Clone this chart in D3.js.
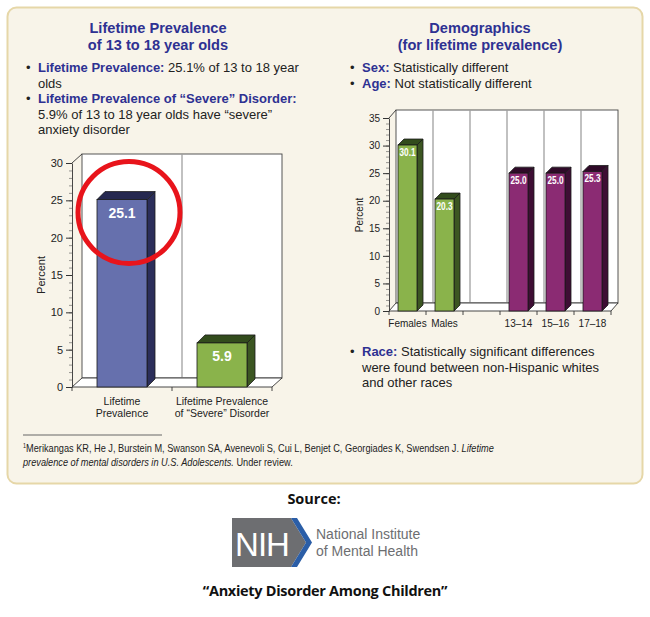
<!DOCTYPE html>
<html><head><meta charset="utf-8">
<script src="https://cdn.jsdelivr.net/npm/d3@7"></script>
<style>
body{margin:0;background:#fff;}
svg{display:block;font-family:"Liberation Sans",Arial,sans-serif;}
</style></head>
<body>
<script>
// ---- data ----
const leftCategories = ["Lifetime Prevalence", "Lifetime Prevalence of “Severe” Disorder"];
const leftLabelLines = [["Lifetime","Prevalence"],["Lifetime Prevalence","of “Severe” Disorder"]];
const leftValues = [25.1, 5.9];
const leftTicks = [0,5,10,15,20,25,30];

const rightCategories = ["Females","Males","","13–14","15–16","17–18"];
const rightValues = [30.1, 20.3, null, 25.0, 25.0, 25.3];
const rightGroup = ["sex","sex",null,"age","age","age"];
const rightTicks = [0,5,10,15,20,25,30,35];

const W = 650, H = 617;
const svg = d3.select("body").append("svg").attr("width",W).attr("height",H);
const navy = "#2e3192";

// panel
svg.append("rect").attr("x",7.5).attr("y",7.5).attr("width",635).attr("height",476)
  .attr("rx",9).attr("fill","#f8f4e9").attr("stroke","#e6d7a8").attr("stroke-width",2);

// ---- text blocks ----
function title(x, lines, y0){
  lines.forEach((t,i)=>svg.append("text").attr("x",x).attr("y",y0+i*17)
    .attr("text-anchor","middle").attr("font-size",14.6).attr("font-weight","bold")
    .attr("fill",navy).text(t));
}
title(158, ["Lifetime Prevalence","of 13 to 18 year olds"], 33);
title(480, ["Demographics","(for lifetime prevalence)"], 33);

function bullet(xb, xt, y, label, lines){
  svg.append("text").attr("x",xb).attr("y",y).attr("font-size",13).attr("fill","#222").text("•");
  lines.forEach((ln,i)=>{
    const t = svg.append("text").attr("x",xt).attr("y",y+i*15.5).attr("font-size",13).attr("fill","#222");
    if(i===0 && label){ t.append("tspan").attr("font-weight","bold").attr("fill",navy).text(label); }
    t.append("tspan").text(ln);
  });
}
bullet(26, 38, 72, "Lifetime Prevalence:", [" 25.1% of 13 to 18 year","olds"]);
bullet(26, 38, 103, "Lifetime Prevalence of “Severe” Disorder:", ["","5.9% of 13 to 18 year olds have “severe”","anxiety disorder"]);
bullet(350, 362, 72, "Sex:", [" Statistically different"]);
bullet(350, 362, 88, "Age:", [" Not statistically different"]);
bullet(350, 362, 356, "Race:", [" Statistically significant differences","were found between non-Hispanic whites","and other races"]);

// ---- 3D bar chart helper ----
function chart(opts){
  const {x0,x1,y0,y1,max,dx,dy,cats,vals,colors,ticks,barDepth,pInner,pOuter,labelSize,labelDy,labelLen,catLines,catY,percentX,percentY} = opts;
  const g = svg.append("g");
  const y = d3.scaleLinear().domain([0,max]).range([y0,y1]);
  const x = d3.scaleBand().domain(cats).range([x0,x1]).paddingInner(pInner).paddingOuter(pOuter);
  const step = x.step();
  const slotStart = c => x(c) - (step - x.bandwidth())/2;
  // back wall
  g.append("rect").attr("x",x0+dx).attr("y",y(max)-dy).attr("width",x1-x0).attr("height",y(0)-y(max))
    .attr("fill","#fff").attr("stroke","#444").attr("stroke-width",0.9);
  // dividers
  cats.slice(1).forEach(c=>{
    const xx = slotStart(c)+dx;
    g.append("line").attr("x1",xx).attr("x2",xx).attr("y1",y(max)-dy).attr("y2",y(0)-dy)
      .attr("stroke","#a0a0a0").attr("stroke-width",1.3);
  });
  // floor
  g.append("path").attr("d",`M${x0},${y(0)}L${x1},${y(0)}L${x1+dx},${y(0)-dy}L${x0+dx},${y(0)-dy}Z`)
    .attr("fill","#fff").attr("stroke","#333").attr("stroke-width",0.9);
  // axis diagonal top
  g.append("line").attr("x1",x0).attr("y1",y(max)).attr("x2",x0+dx).attr("y2",y(max)-dy)
    .attr("stroke","#333").attr("stroke-width",0.9);
  // bars
  cats.forEach((c,i)=>{
    const v = vals[i]; if(v==null) return;
    const col = colors[i];
    const bx = x(c), bw = x.bandwidth(), by = y(v), bb = y(0), d = barDepth;
    g.append("path").attr("d",`M${bx+bw},${by}L${bx+bw+d},${by-d}L${bx+bw+d},${bb-d}L${bx+bw},${bb}Z`)
      .attr("fill",col.side).attr("stroke","#1a1a1a").attr("stroke-width",0.8);
    g.append("path").attr("d",`M${bx},${by}L${bx+d},${by-d}L${bx+bw+d},${by-d}L${bx+bw},${by}Z`)
      .attr("fill",col.top).attr("stroke","#1a1a1a").attr("stroke-width",0.8);
    g.append("rect").attr("x",bx).attr("y",by).attr("width",bw).attr("height",bb-by)
      .attr("fill",col.front).attr("stroke","#1a1a1a").attr("stroke-width",0.8);
    const t = g.append("text").attr("x",bx+bw/2).attr("y",by+labelDy).attr("text-anchor","middle")
      .attr("font-size",labelSize).attr("font-weight","bold")
      .attr("fill","#fff").text(d3.format(".1f")(v));
    if(labelLen){ t.attr("textLength",labelLen).attr("lengthAdjust","spacingAndGlyphs"); }
  });
  // y axis
  const minor = d3.range(0,max+0.001,1);
  const ax = g.append("g").attr("transform",`translate(${x0},0)`)
    .call(d3.axisLeft(y).tickValues(minor).tickSize(3).tickFormat(""));
  ax.select(".domain").remove();
  ax.selectAll("line").attr("stroke","#555").attr("stroke-width",0.6);
  const ay = g.append("g").attr("transform",`translate(${x0},0)`)
    .call(d3.axisLeft(y).tickValues(ticks).tickSize(6).tickSizeOuter(0).tickPadding(3));
  ay.select(".domain").attr("stroke","#333").attr("stroke-width",0.9);
  ay.selectAll("line").attr("stroke","#333");
  ay.selectAll("text").attr("font-size",opts.tickSize).attr("fill","#222").attr("font-family","Liberation Sans, Arial, sans-serif");
  // x ticks
  const bounds = cats.map(slotStart).concat([x1]);
  bounds.forEach(b=>g.append("line").attr("x1",b).attr("x2",b).attr("y1",y(0)).attr("y2",y(0)+4)
    .attr("stroke","#333").attr("stroke-width",0.9));
  // category labels
  cats.forEach((c,i)=>{
    catLines[i].forEach((ln,j)=>g.append("text").attr("x",x(c)+x.bandwidth()/2).attr("y",catY+j*12)
      .attr("text-anchor","middle").attr("font-size",opts.catSize).attr("fill","#222").text(ln));
  });
  g.append("text").attr("transform",`translate(${percentX},${percentY}) rotate(-90)`)
    .attr("text-anchor","middle").attr("font-size",opts.tickSize).attr("fill","#222").text("Percent");
  return {x,y};
}

const blue = {front:"#6670ad", side:"#2b2e5a", top:"#252850"};
const green = {front:"#8ab34b", side:"#3c5622", top:"#324c1c"};
const purple = {front:"#8b2b73", side:"#3e0e34", top:"#2f0a28"};

const L = chart({x0:72,x1:272,y0:387,y1:163,max:30,dx:10,dy:9,cats:leftCategories,vals:leftValues,
  colors:[blue,green],ticks:leftTicks,barDepth:8,pInner:0.5,pOuter:0.25,
  labelSize:14,labelDy:18,labelLen:null,tickSize:11,
  catLines:leftLabelLines,catY:405,catSize:10.5,percentX:45,percentY:275});

chart({x0:389,x1:611,y0:311,y1:118,max:35,dx:7,dy:8,cats:rightCategories,vals:rightValues,
  colors:rightGroup.map(g=>g==="sex"?green:purple),ticks:rightTicks,barDepth:6,pInner:18/37,pOuter:9/37,
  labelSize:11.5,labelDy:10.5,labelLen:16,tickSize:10,
  catLines:rightCategories.map(c=>[c]),catY:327,catSize:10,percentX:363,percentY:215});

// red circle highlight around first bar value
svg.append("circle").attr("cx",L.x(leftCategories[0])+L.x.bandwidth()/2+7).attr("cy",L.y(leftValues[0])+13)
  .attr("r",51).attr("fill","none").attr("stroke","#e8141b").attr("stroke-width",5);

// footnote (condensed to match the original's narrow face)
svg.append("line").attr("x1",23).attr("x2",162).attr("y1",435).attr("y2",435).attr("stroke","#666").attr("stroke-width",1);
const fn = svg.append("g").attr("transform","translate(23,0) scale(0.78,1)");
const fn1 = fn.append("text").attr("x",0).attr("y",452).attr("font-size",11.8).attr("fill","#222");
fn1.append("tspan").attr("font-size",7).attr("dy",-4).text("1");
fn1.append("tspan").attr("dy",4).text("Merikangas KR, He J, Burstein M, Swanson SA, Avenevoli S, Cui L, Benjet C, Georgiades K, Swendsen J. ");
fn1.append("tspan").attr("font-style","italic").text("Lifetime");
const fn2 = fn.append("text").attr("x",0).attr("y",466).attr("font-size",11.8).attr("fill","#222");
fn2.append("tspan").attr("font-style","italic").text("prevalence of mental disorders in U.S. Adolescents.");
fn2.append("tspan").text(" Under review.");

// source
const bold = "'Open Sans', Lato, sans-serif";
svg.append("text").attr("x",314).attr("y",504).attr("text-anchor","middle").attr("font-family",bold)
  .attr("font-weight","bold").attr("font-size",14.5).attr("fill","#111").text("Source:");
// NIH logo
svg.append("path").attr("d","M232,518L291,518L306,542.5L291,567L232,567Z").attr("fill","#6d6e71");
svg.append("path").attr("d","M291,518L297,518L312,542.5L297,567L291,567L306,542.5Z").attr("fill","#2b5ea7");
svg.append("text").attr("x",262).attr("y",556).attr("text-anchor","middle").attr("font-family","Liberation Sans, Arial, sans-serif")
  .attr("font-size",33).attr("fill","#fff").attr("letter-spacing",-1).text("NIH");
svg.append("text").attr("x",316).attr("y",539).attr("font-size",14).attr("fill","#6d6e71").text("National Institute");
svg.append("text").attr("x",316).attr("y",556).attr("font-size",14).attr("fill","#6d6e71").text("of Mental Health");
svg.append("text").attr("x",325).attr("y",596).attr("text-anchor","middle").attr("font-family",bold)
  .attr("font-weight","bold").attr("font-size",14.5).attr("fill","#111").attr("letter-spacing",-0.3).text("“Anxiety Disorder Among Children”");
</script>
</body></html>
